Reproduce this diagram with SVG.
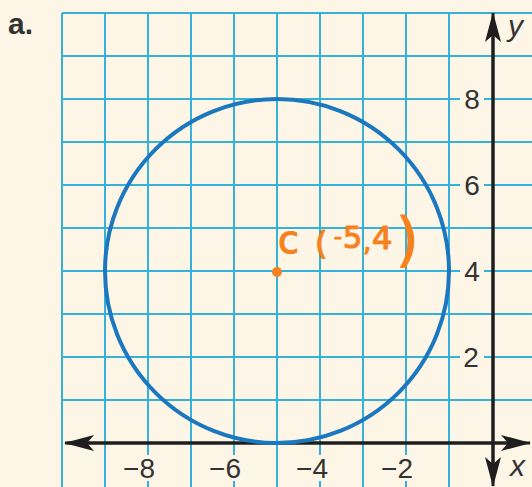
<svg xmlns="http://www.w3.org/2000/svg" width="532" height="487" viewBox="0 0 532 487">
<style>
.grid line{stroke:#35b2da;stroke-width:2}
.axis{stroke:#1e1e1e;stroke-width:3;fill:none}
.lbl{font-family:"Liberation Sans",Arial,sans-serif;font-size:28px;fill:#333;text-anchor:middle}
.var{font-family:"Liberation Sans",Arial,sans-serif;font-size:30px;font-style:italic;fill:#333}
.bg{fill:#fdf6e7}
.hand{font-family:"DejaVu Sans",sans-serif;fill:#f5821f;stroke:#f5821f;stroke-width:1.2;stroke-linejoin:round}
</style>
<defs>
<marker id="ah" viewBox="0 0 30 16" refX="29" refY="8" markerWidth="30" markerHeight="16" markerUnits="userSpaceOnUse" orient="auto">
<path d="M0,0 L30,8 L0,16 L7,8 Z" fill="#1e1e1e"/>
</marker>
</defs>
<rect width="532" height="487" fill="#fdf6e7"/>
<text x="8" y="34" font-family="Liberation Sans,Arial,sans-serif" font-size="30" font-weight="bold" fill="#333">a.</text>
<g id="grid" class="grid">
<line x1="62" y1="13" x2="62" y2="487"/>
<line x1="105" y1="13" x2="105" y2="487"/>
<line x1="148" y1="13" x2="148" y2="487"/>
<line x1="191" y1="13" x2="191" y2="487"/>
<line x1="234" y1="13" x2="234" y2="487"/>
<line x1="277" y1="13" x2="277" y2="487"/>
<line x1="320" y1="13" x2="320" y2="487"/>
<line x1="363" y1="13" x2="363" y2="487"/>
<line x1="406" y1="13" x2="406" y2="487"/>
<line x1="449" y1="13" x2="449" y2="487"/>
<line x1="62" y1="13" x2="532" y2="13"/>
<line x1="62" y1="56" x2="532" y2="56"/>
<line x1="62" y1="99" x2="532" y2="99"/>
<line x1="62" y1="142" x2="532" y2="142"/>
<line x1="62" y1="185" x2="532" y2="185"/>
<line x1="62" y1="228" x2="532" y2="228"/>
<line x1="62" y1="271" x2="532" y2="271"/>
<line x1="62" y1="314" x2="532" y2="314"/>
<line x1="62" y1="357" x2="532" y2="357"/>
<line x1="62" y1="400" x2="532" y2="400"/>
</g>
<g id="labels">
<rect class="bg" x="460" y="86" width="24" height="26"/>
<rect class="bg" x="460" y="172" width="24" height="26"/>
<rect class="bg" x="460" y="258" width="24" height="26"/>
<rect class="bg" x="460" y="344" width="24" height="26"/>
<rect class="bg" x="136" y="455" width="24" height="26"/>
<rect class="bg" x="222" y="455" width="24" height="26"/>
<rect class="bg" x="308" y="455" width="24" height="26"/>
<rect class="bg" x="394" y="455" width="24" height="26"/>
<text class="lbl" x="472" y="109">8</text>
<text class="lbl" x="472" y="195">6</text>
<text class="lbl" x="472" y="281">4</text>
<text class="lbl" x="471" y="367">2</text>
<text class="lbl" x="139" y="478">−8</text>
<text class="lbl" x="225" y="478">−6</text>
<text class="lbl" x="312" y="478">−4</text>
<text class="lbl" x="397" y="478">−2</text>
<text class="var" x="508" y="36">y</text>
<text class="var" x="510" y="476">x</text>
</g>
<g id="axes">
<line class="axis" x1="67" y1="443" x2="530" y2="443" marker-end="url(#ah)"/>
<line class="axis" x1="510" y1="443" x2="65" y2="443" marker-end="url(#ah)"/>
<line class="axis" x1="493" y1="480" x2="493" y2="13" marker-end="url(#ah)"/>
<line class="axis" x1="493" y1="20" x2="493" y2="486" marker-end="url(#ah)"/>
</g>
<g id="circle">
<circle cx="277" cy="271" r="172" fill="none" stroke="#1b78bf" stroke-width="4"/>
</g>
<g id="center">
<circle cx="277" cy="272" r="5" fill="#f5821f"/>
<text class="hand"><tspan x="278" y="253" font-size="38">c</tspan><tspan x="315" y="254" font-size="32">(</tspan><tspan x="334" y="244" font-size="22">-</tspan><tspan x="343" y="248" font-size="30">5</tspan><tspan x="363" y="251" font-size="26">,</tspan><tspan x="372" y="249" font-size="32">4</tspan><tspan x="396" y="260" font-size="58">)</tspan></text>
</g>
</svg>
